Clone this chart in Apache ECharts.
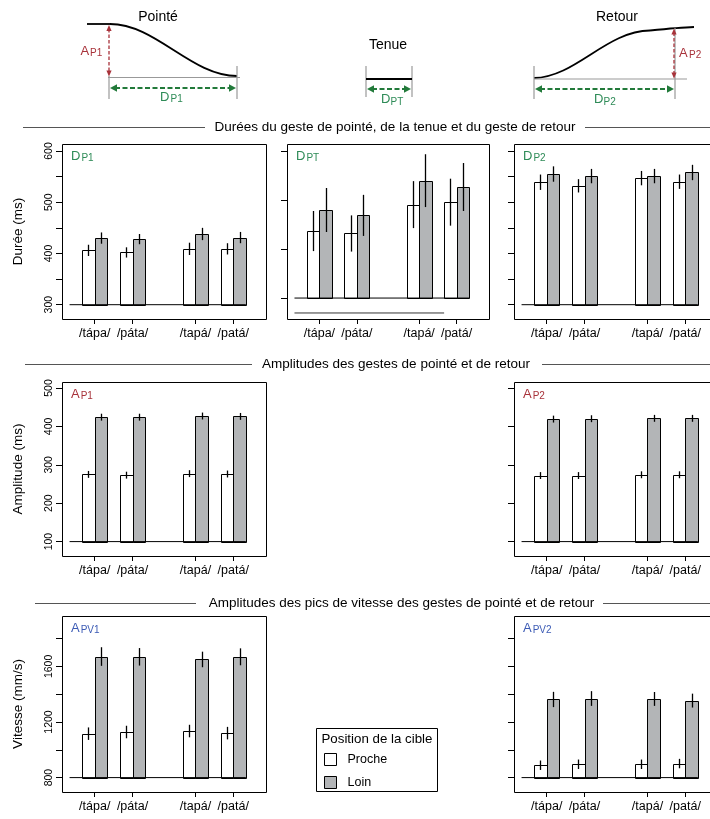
<!DOCTYPE html>
<html><head><meta charset="utf-8">
<script src="https://cdn.jsdelivr.net/npm/echarts@6/dist/echarts.min.js"></script>
<style>html,body{margin:0;padding:0;background:#fff}#c{width:710px;height:819px}</style>
</head><body><div id="c"></div>
<script>
// ================= DATA =================
const categories = ['/tápa/', '/páta/', '/tapá/', '/patá/'];

const dP1Proche = [406, 402, 409, 409];
const dP1ProcheErr = [11, 10, 12, 11];
const dP1Loin = [430, 428, 438, 431];
const dP1LoinErr = [11, 10, 12, 11];

const dPTProche = [137, 132, 191, 196];
const dPTProcheErr = [41, 37, 48, 48];
const dPTLoin = [180, 169, 240, 227];
const dPTLoinErr = [45, 42, 54, 49];

const dP2Proche = [539, 532, 547, 540];
const dP2ProcheErr = [15, 13, 14, 14];
const dP2Loin = [555, 551, 551, 558];
const dP2LoinErr = [15, 14, 14, 15];

const aP1Proche = [275, 273, 277, 276];
const aP1ProcheErr = [9, 9, 9, 9];
const aP1Loin = [424, 424, 427, 426];
const aP1LoinErr = [9, 9, 9, 9];

const aP2Proche = [272, 272, 274, 274];
const aP2ProcheErr = [9, 9, 9, 9];
const aP2Loin = [419, 420, 421, 421];
const aP2LoinErr = [9, 9, 9, 9];

const aPV1Proche = [1116, 1128, 1135, 1120];
const aPV1ProcheErr = [45, 45, 45, 45];
const aPV1Loin = [1671, 1669, 1650, 1669];
const aPV1LoinErr = [67, 63, 56, 61];

const aPV2Proche = [889, 896, 896, 901];
const aPV2ProcheErr = [34, 34, 34, 34];
const aPV2Loin = [1362, 1369, 1366, 1354];
const aPV2LoinErr = [55, 53, 50, 50];

// tick values / labels
const durTicks = [300, 350, 400, 450, 500, 550, 600];
const durLabels = [300, 400, 500, 600];
const tenueTicks = [0, 100, 200, 300];
const ampTicks = [100, 200, 300, 400, 500];
const vitTicks = [800, 1000, 1200, 1400, 1600, 1800];
const vitLabels = [800, 1200, 1600];

// ================= STYLE / LAYOUT =================
const FONT = '"Liberation Sans", Arial, Helvetica, sans-serif';
const GREEN = '#2e8b57';
const GREEN_ARROW = '#227a3a';
const RED = '#a8323a';
const BLUE = '#3c5bb5';
const GRAY_BAR = '#b3b5b7';
const groupPos = [1, 4, 9, 12];     // centre of each pair of bars, bar width = 1
const X_MIN = -1.6, X_MAX = 14.6;

const panels = [
  {grid:{left:62, top:144, width:204, height:175}, yMin:272.1, yMax:613.6, base:300,
   ticks:durTicks, labels:durLabels, name:'Durée (ms)', tag:'D', sub:'P1', color:GREEN,
   proche:dP1Proche, procheErr:dP1ProcheErr, loin:dP1Loin, loinErr:dP1LoinErr},
  {grid:{left:287, top:144, width:202, height:175}, yMin:-42.8, yMax:314.9, base:0,
   ticks:tenueTicks, labels:null, name:null, tag:'D', sub:'PT', color:GREEN,
   proche:dPTProche, procheErr:dPTProcheErr, loin:dPTLoin, loinErr:dPTLoinErr, extra:-30.5},
  {grid:{left:514, top:144, width:204, height:175}, yMin:272.1, yMax:613.6, base:300,
   ticks:durTicks, labels:null, name:null, tag:'D', sub:'P2', color:GREEN,
   proche:dP2Proche, procheErr:dP2ProcheErr, loin:dP2Loin, loinErr:dP2LoinErr},
  {grid:{left:62, top:382, width:204, height:174}, yMin:62.5, yMax:515.6, base:100,
   ticks:ampTicks, labels:ampTicks, name:'Amplitude (ms)', tag:'A', sub:'P1', color:RED,
   proche:aP1Proche, procheErr:aP1ProcheErr, loin:aP1Loin, loinErr:aP1LoinErr},
  {grid:{left:514, top:382, width:204, height:174}, yMin:62.5, yMax:515.6, base:100,
   ticks:ampTicks, labels:null, name:null, tag:'A', sub:'P2', color:RED,
   proche:aP2Proche, procheErr:aP2ProcheErr, loin:aP2Loin, loinErr:aP2LoinErr},
  {grid:{left:62, top:616, width:204, height:176}, yMin:696.4, yMax:1962.6, base:800,
   ticks:vitTicks, labels:vitLabels, name:'Vitesse (mm/s)', tag:'A', sub:'PV1', color:BLUE,
   proche:aPV1Proche, procheErr:aPV1ProcheErr, loin:aPV1Loin, loinErr:aPV1LoinErr},
  {grid:{left:514, top:616, width:204, height:176}, yMin:696.4, yMax:1962.6, base:800,
   ticks:vitTicks, labels:null, name:null, tag:'A', sub:'PV2', color:BLUE,
   proche:aPV2Proche, procheErr:aPV2ProcheErr, loin:aPV2Loin, loinErr:aPV2LoinErr}
];

function barRender(base, side, fill) {
  return function (params, api) {
    const c = api.value(0), v = api.value(1);
    const xl = side === 0 ? c - 1 : c;
    const tl = api.coord([xl, v]);
    const br = api.coord([xl + 1, base]);
    const x = Math.round(tl[0]) + 0.5, y = Math.round(tl[1]) + 0.5;
    const w = Math.round(br[0]) - Math.round(tl[0]);
    const h = Math.round(br[1]) - Math.round(tl[1]);
    return {type:'rect', shape:{x:x, y:y, width:w, height:h},
            style:{fill:fill, stroke:'#000', lineWidth:1}};
  };
}
function errRender(side) {
  return function (params, api) {
    const c = api.value(0), v = api.value(1), e = api.value(2);
    const xc = side === 0 ? c - 0.5 : c + 0.5;
    const p1 = api.coord([xc, v - e]), p2 = api.coord([xc, v + e]);
    const x = Math.round(p1[0]) + 0.5;
    return {type:'line', shape:{x1:x, y1:p1[1], x2:x, y2:p2[1]},
            style:{stroke:'#000', lineWidth:1.3}};
  };
}

const grids = [], xAxes = [], yAxes = [], series = [], graphics = [];

panels.forEach(function (p, i) {
  grids.push(Object.assign({show:false, containLabel:false, outerBoundsMode:'none'}, p.grid));
  // plot frame (box) around the plotting region; may run past the right edge of the picture
  graphics.push({type:'rect', shape:{x:p.grid.left + 0.5, y:p.grid.top + 0.5, width:p.grid.width, height:p.grid.height},
    style:{fill:null, stroke:'#000', lineWidth:1}, z:10});
  xAxes.push({
    gridIndex:i, type:'value', min:X_MIN, max:X_MAX,
    axisLine:{show:false, onZero:false}, splitLine:{show:false},
    axisTick:{show:true, customValues:groupPos, length:5, lineStyle:{color:'#000', width:1}},
    axisLabel:{show:true, customValues:groupPos, margin:8, fontSize:12.5, color:'#000', fontFamily:FONT,
      formatter:function (v) { return categories[groupPos.indexOf(v)]; }}
  });
  const y = {
    gridIndex:i, type:'value', min:p.yMin, max:p.yMax,
    axisLine:{show:false, onZero:false}, splitLine:{show:false},
    axisTick:{show:true, customValues:p.ticks, length:6, lineStyle:{color:'#000', width:1}},
    axisLabel:{show:!!p.labels, customValues:p.labels || [], rotate:90, margin:7, fontSize:10.5,
      color:'#000', fontFamily:FONT, formatter:function (v) { return String(Math.round(v)); }}
  };
  if (p.name) {
    Object.assign(y, {name:p.name, nameLocation:'middle', nameRotate:90, nameGap:37,
      nameTextStyle:{fontSize:13.5, color:'#000', fontFamily:FONT}});
  }
  yAxes.push(y);

  const procheData = groupPos.map(function (g, k) { return [g, p.proche[k], p.procheErr[k]]; });
  const loinData = groupPos.map(function (g, k) { return [g, p.loin[k], p.loinErr[k]]; });
  series.push({type:'custom', name:'Proche', xAxisIndex:i, yAxisIndex:i, data:procheData,
    encode:{x:0, y:1}, renderItem:barRender(p.base, 0, '#ffffff'), silent:true, z:2});
  series.push({type:'custom', name:'Loin', xAxisIndex:i, yAxisIndex:i, data:loinData,
    encode:{x:0, y:1}, renderItem:barRender(p.base, 1, GRAY_BAR), silent:true, z:2});
  series.push({type:'custom', name:'err-proche-' + i, xAxisIndex:i, yAxisIndex:i, data:procheData,
    encode:{x:0, y:1}, renderItem:errRender(0), silent:true, z:4});
  series.push({type:'custom', name:'err-loin-' + i, xAxisIndex:i, yAxisIndex:i, data:loinData,
    encode:{x:0, y:1}, renderItem:errRender(1), silent:true, z:4});
  series.push({type:'line', name:'base-' + i, xAxisIndex:i, yAxisIndex:i,
    data:[[-1, p.base], [13, p.base]], symbol:'none', silent:true, z:5,
    lineStyle:{color:'#000', width:1}});
  if (p.extra !== undefined) {
    series.push({type:'line', name:'extra-' + i, xAxisIndex:i, yAxisIndex:i,
      data:[[-1, p.extra], [11, p.extra]], symbol:'none', silent:true, z:5,
      lineStyle:{color:'#333', width:1}});
  }
  // panel tag
  const mainW = p.tag === 'D' ? 9.4 : 8.7;
  graphics.push({type:'text', x:p.grid.left + 9, y:p.grid.top + 12,
    style:{text:p.tag, fill:p.color, fontSize:13, fontFamily:FONT, verticalAlign:'middle'}});
  graphics.push({type:'text', x:p.grid.left + 9 + mainW + 1, y:p.grid.top + 14.5,
    style:{text:p.sub, fill:p.color, fontSize:10, fontFamily:FONT, verticalAlign:'middle'}});
});

// ---------- section headers ----------
function header(text, cx, cy, l1, l2, r1, r2) {
  graphics.push({type:'text', x:cx, y:cy, style:{text:text, fill:'#000', fontSize:13.5,
    fontFamily:FONT, align:'center', verticalAlign:'middle'}});
  graphics.push({type:'line', shape:{x1:l1, y1:cy + 0.5, x2:l2, y2:cy + 0.5}, style:{stroke:'#555', lineWidth:1}});
  graphics.push({type:'line', shape:{x1:r1, y1:cy + 0.5, x2:r2, y2:cy + 0.5}, style:{stroke:'#555', lineWidth:1}});
}
header('Durées du geste de pointé, de la tenue et du geste de retour', 395, 127, 23, 205, 585, 710);
header('Amplitudes des gestes de pointé et de retour', 396, 364, 25, 252, 542, 710);
header('Amplitudes des pics de vitesse des gestes de pointé et de retour', 401.5, 603, 35, 196, 603, 710);

// ---------- schematic ----------
function txt(t, x, y, size, color, align) {
  graphics.push({type:'text', x:x, y:y, style:{text:t, fill:color, fontSize:size, fontFamily:FONT,
    align:align || 'left', verticalAlign:'middle'}});
}
function gline(x1, y1, x2, y2, color, w, dash) {
  graphics.push({type:'line', shape:{x1:x1, y1:y1, x2:x2, y2:y2},
    style:{stroke:color, lineWidth:w, lineDash:dash || null}});
}
function hArrow(x1, x2, y, color) {
  gline(x1 + 5, y, x2 - 5, y, color, 2.2, [5, 2.5]);
  graphics.push({type:'polygon', shape:{points:[[x1, y], [x1 + 7, y - 3.8], [x1 + 7, y + 3.8]]}, style:{fill:color}});
  graphics.push({type:'polygon', shape:{points:[[x2, y], [x2 - 7, y - 3.8], [x2 - 7, y + 3.8]]}, style:{fill:color}});
}
function vArrow(x, y1, y2, color) {
  gline(x, y1 + 4, x, y2 - 4, color, 1.3, [3.5, 2]);
  graphics.push({type:'polygon', shape:{points:[[x, y1], [x - 2.6, y1 + 6], [x + 2.6, y1 + 6]]}, style:{fill:color}});
  graphics.push({type:'polygon', shape:{points:[[x, y2], [x - 2.6, y2 - 6], [x + 2.6, y2 - 6]]}, style:{fill:color}});
}
// Pointé
txt('Pointé', 158, 17, 14, '#000', 'center');
gline(87, 24, 110, 24, '#000', 1.8);
graphics.push({type:'bezierCurve', shape:{x1:110, y1:24, cpx1:156, cpy1:24, cpx2:191, cpy2:76, x2:237, y2:76},
  style:{stroke:'#000', lineWidth:1.8, fill:null}});
gline(108, 77.5, 240, 77.5, '#999', 1);
gline(109, 76, 109, 99, '#999', 1.2);
gline(237, 66, 237, 99, '#999', 1.2);
vArrow(109, 25, 76.5, RED);
txt('A', 80.5, 51, 13, RED);
txt('P1', 90, 53.5, 10, RED);
hArrow(110, 236, 88, GREEN_ARROW);
txt('D', 160, 97, 13, GREEN);
txt('P1', 170.5, 99.5, 10, GREEN);
// Tenue
txt('Tenue', 388, 45, 14, '#000', 'center');
gline(366, 66, 366, 97, '#999', 1.2);
gline(412, 66, 412, 97, '#999', 1.2);
gline(366, 79, 412, 79, '#000', 1.8);
hArrow(367, 411, 89, GREEN_ARROW);
txt('D', 381, 99.5, 13, GREEN);
txt('PT', 390.5, 102, 10, GREEN);
// Retour
txt('Retour', 617, 17, 14, '#000', 'center');
graphics.push({type:'bezierCurve', shape:{x1:534, y1:78, cpx1:576, cpy1:77, cpx2:606, cpy2:31, x2:650, y2:30.5},
  style:{stroke:'#000', lineWidth:1.8, fill:null}});
graphics.push({type:'bezierCurve', shape:{x1:650, y1:30.5, cpx1:665, cpy1:29, cpx2:680, cpy2:27.5, x2:694, y2:27},
  style:{stroke:'#000', lineWidth:1.8, fill:null}});
gline(534, 79, 687, 79, '#999', 1);
gline(534, 66, 534, 99, '#999', 1.2);
gline(675, 28, 675, 99, '#999', 1.2);
vArrow(674, 28.5, 78.5, RED);
txt('A', 679, 53, 13, RED);
txt('P2', 689, 55.5, 10, RED);
hArrow(535, 674, 89, GREEN_ARROW);
txt('D', 594, 99.5, 13, GREEN);
txt('P2', 603.5, 102, 10, GREEN);

// ---------- legend box ----------
graphics.push({type:'rect', shape:{x:316.5, y:728.5, width:121, height:63},
  style:{fill:'#fff', stroke:'#000', lineWidth:1}, z:-1});
txt('Position de la cible', 321.5, 739.5, 13.3, '#000');

const option = {
  animation:false,
  backgroundColor:'#fff',
  textStyle:{fontFamily:FONT},
  grid:grids, xAxis:xAxes, yAxis:yAxes, series:series,
  legend:{
    orient:'vertical', left:324, top:753, padding:0, itemWidth:12, itemHeight:12, itemGap:10,
    selectedMode:false, icon:'rect',
    textStyle:{fontSize:12.5, fontFamily:FONT, color:'#000', padding:[0, 0, 0, 6]},
    data:[{name:'Proche', itemStyle:{color:'#ffffff', borderColor:'#000', borderWidth:1}},
          {name:'Loin', itemStyle:{color:GRAY_BAR, borderColor:'#000', borderWidth:1}}]
  },
  graphic:{elements:graphics}
};
const chart = echarts.init(document.getElementById('c'), null, {renderer:'canvas'});
chart.setOption(option);
</script>
</body></html>
